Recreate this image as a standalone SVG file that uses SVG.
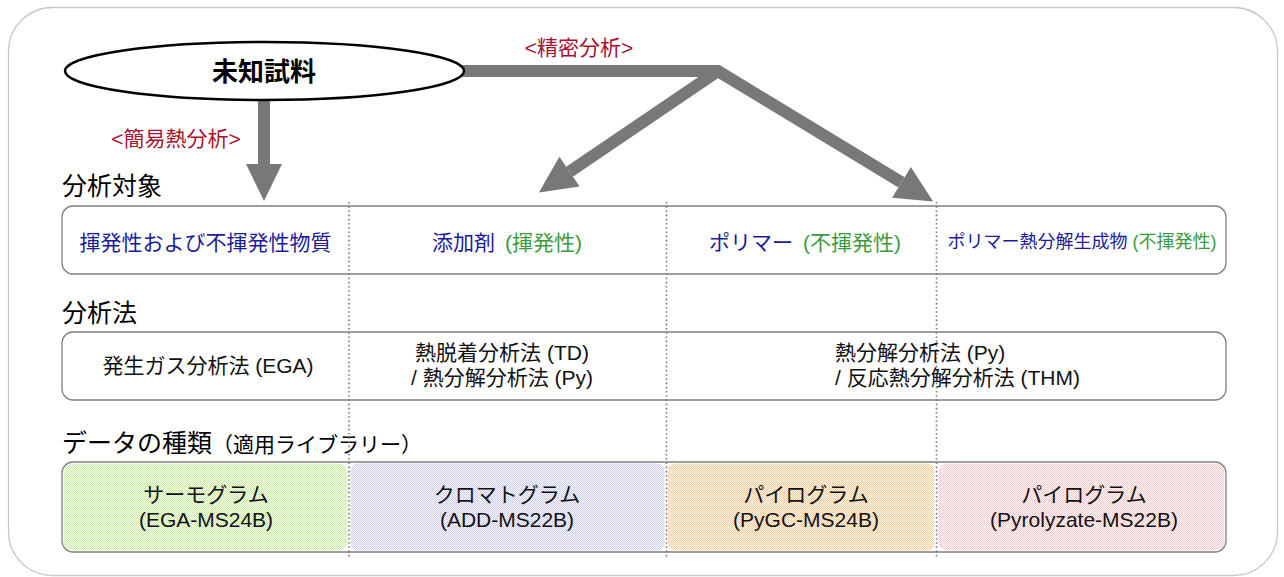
<svg xmlns="http://www.w3.org/2000/svg" width="1284" height="577" viewBox="0 0 1284 577">
<style>
text{font-family:"Liberation Sans","Noto Sans CJK JP",sans-serif;}
.hdr{font-size:25px;fill:#000;}
.lbl{font-size:21px;fill:#111;text-anchor:middle;}
.small{font-size:18px;}
.red{font-size:21px;fill:#a8122f;text-anchor:middle;}
.blue{fill:#1a1a9c;}
.green{fill:#3b9b3b;}
.box{fill:#fff;stroke:#808080;stroke-width:1.3;}
.shaft{fill:none;stroke:#787878;stroke-width:12;stroke-linejoin:miter;}
.dot{stroke:#7a7a7a;stroke-width:1.6;stroke-dasharray:1.6 2.6;}
</style>
<defs>
<marker id="ah" markerUnits="userSpaceOnUse" markerWidth="40" markerHeight="40" refX="0" refY="18" orient="auto" overflow="visible">
<path d="M0,0 L37,18 L0,36 z" fill="#787878"/>
</marker>
<pattern id="pg" width="2" height="2" patternUnits="userSpaceOnUse"><rect width="2" height="2" fill="#fafdf5"/><rect width="1" height="1" fill="#c6ec9c"/><rect x="1" y="1" width="1" height="1" fill="#c6ec9c"/></pattern>
<pattern id="pb" width="2" height="2" patternUnits="userSpaceOnUse"><rect width="2" height="2" fill="#f8f8fd"/><rect width="1" height="1" fill="#cdcdf4"/><rect x="1" y="1" width="1" height="1" fill="#cdcdf4"/></pattern>
<pattern id="po" width="2" height="2" patternUnits="userSpaceOnUse"><rect width="2" height="2" fill="#fef7ef"/><rect width="1" height="1" fill="#f9cb98"/><rect x="1" y="1" width="1" height="1" fill="#f9cb98"/></pattern>
<pattern id="pp" width="2" height="2" patternUnits="userSpaceOnUse"><rect width="2" height="2" fill="#fef7f8"/><rect width="1" height="1" fill="#f6c9cd"/><rect x="1" y="1" width="1" height="1" fill="#f6c9cd"/></pattern>
</defs>

<rect id="frame" x="8.5" y="7.5" width="1269" height="568" rx="44" fill="#fff" stroke="#c8c8c8" stroke-width="1.3"/>

<g id="connectors">
<path class="shaft" d="M264,98 L264,164" marker-end="url(#ah)" stroke-width="11"/>
<path class="shaft" d="M460,71 L718,71 L901.5,182.3" marker-end="url(#ah)"/>
<path class="shaft" d="M718,71 L569.5,171.7" marker-end="url(#ah)"/>
</g>

<g id="sample">
<ellipse cx="264.5" cy="71" rx="199.5" ry="29" fill="#fff" stroke="#000" stroke-width="2.5"/>
<text x="264" y="81" font-size="26" font-weight="bold" text-anchor="middle" fill="#000">未知試料</text>
</g>

<g id="label-precise"><text class="red" x="579" y="55">&lt;精密分析&gt;</text></g>
<g id="label-simple"><text class="red" x="176" y="146">&lt;簡易熱分析&gt;</text></g>

<g id="header-target"><text class="hdr" x="62" y="195">分析対象</text></g>
<g id="header-method"><text class="hdr" x="62" y="322">分析法</text></g>
<g id="header-data"><text class="hdr" x="62" y="452">データの種類<tspan font-size="21">（適用ライブラリー）</tspan></text></g>

<g id="row-target">
<rect class="box" x="62" y="206" width="1164" height="68" rx="11"/>
</g>
<g id="row-method">
<rect class="box" x="62" y="332" width="1164" height="68" rx="11"/>
</g>
<g id="row-data">
<rect class="box" x="62" y="462" width="1164" height="90" rx="11"/>
<rect x="63.5" y="463.5" width="284" height="87" rx="9" fill="url(#pg)"/>
<rect x="350.5" y="463.5" width="314" height="87" rx="7" fill="url(#pb)"/>
<rect x="668" y="463.5" width="266" height="87" rx="7" fill="url(#po)"/>
<rect x="938.5" y="463.5" width="286" height="87" rx="9" fill="url(#pp)"/>
</g>

<g id="dividers">
<line class="dot" x1="349" y1="202" x2="349" y2="557"/>
<line class="dot" x1="666.5" y1="202" x2="666.5" y2="557"/>
<line class="dot" x1="936.5" y1="202" x2="936.5" y2="557"/>
</g>

<g id="t-volatile"><text class="lbl blue" x="205.5" y="250">揮発性および不揮発性物質</text></g>
<g id="t-additive"><text class="lbl" x="507" y="250"><tspan class="blue">添加剤</tspan><tspan class="green" dx="10">(揮発性)</tspan></text></g>
<g id="t-polymer"><text class="lbl" x="805" y="250"><tspan class="blue">ポリマー</tspan><tspan class="green" dx="10">(不揮発性)</tspan></text></g>
<g id="t-pyrolyzate"><text class="lbl small" x="1082" y="248"><tspan class="blue">ポリマー熱分解生成物</tspan><tspan class="green" dx="5">(不揮発性)</tspan></text></g>

<g id="t-ega"><text class="lbl" x="208" y="373">発生ガス分析法 (EGA)</text></g>
<g id="t-td"><text class="lbl" x="502" y="360">熱脱着分析法 (TD)</text><text class="lbl" x="502" y="385">/ 熱分解分析法 (Py)</text></g>
<g id="t-py"><text class="lbl" x="835" y="360" style="text-anchor:start">熱分解分析法 (Py)</text><text class="lbl" x="835" y="385" style="text-anchor:start">/ 反応熱分解分析法 (THM)</text></g>

<g id="t-thermo"><text class="lbl" x="206" y="502">サーモグラム</text><text class="lbl" x="206" y="527">(EGA-MS24B)</text></g>
<g id="t-chromato"><text class="lbl" x="507" y="502">クロマトグラム</text><text class="lbl" x="507" y="527">(ADD-MS22B)</text></g>
<g id="t-pyro1"><text class="lbl" x="806" y="502">パイログラム</text><text class="lbl" x="806" y="527">(PyGC-MS24B)</text></g>
<g id="t-pyro2"><text class="lbl" x="1084" y="502">パイログラム</text><text class="lbl" x="1084" y="527">(Pyrolyzate-MS22B)</text></g>
</svg>
